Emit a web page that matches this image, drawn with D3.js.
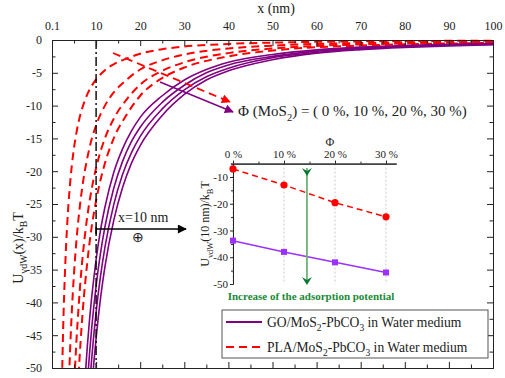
<!DOCTYPE html>
<html><head><meta charset="utf-8">
<script src="https://cdn.jsdelivr.net/npm/d3@7"></script>
<style>
body{margin:0;background:#fff}
text{font-family:"Liberation Serif","Times New Roman",serif;fill:#222}
</style>
</head><body>
<svg id="c" width="505" height="378"></svg>
<script>
// ---------- data ----------
const xTickValues = [0,10,20,30,40,50,60,70,80,90,100];
const xTickLabels = ["0.1","10","20","30","40","50","60","70","80","90","100"];
const yTickValues = [0,-5,-10,-15,-20,-25,-30,-35,-40,-45,-50];
const phiLabels = ["0 %","10 %","20 %","30 %"];
const phiValues = [0,10,20,30];

// GO/MoS2-PbCO3 (purple, solid) curves, x in nm
const goX = [7,7.5,8,8.5,9,9.5,10,11,12,14,16,18,20,25,30,35,40,50,60,70,80,90,100];
const goU0  = [-57.2,-51.6,-46.8,-42.7,-39.2,-36.2,-33.5,-29.0,-25.5,-20.2,-16.6,-13.9,-11.8,-8.5,-6.1,-4.5,-3.4,-2.2,-1.5,-1.09,-0.83,-0.66,-0.53];
const goU10 = [-64.0,-57.7,-52.4,-47.9,-43.9,-40.5,-37.5,-32.5,-28.5,-22.6,-18.5,-15.5,-13.3,-9.5,-6.9,-5.0,-3.8,-2.5,-1.7,-1.2,-0.93,-0.74,-0.59];
const goU20 = [-70.9,-63.9,-58.0,-53.0,-48.6,-44.8,-41.5,-36.0,-31.6,-25.1,-20.5,-17.2,-14.7,-10.5,-7.6,-5.6,-4.3,-2.7,-1.9,-1.34,-1.03,-0.81,-0.66];
const goU30 = [-77.7,-70.1,-63.6,-58.1,-53.3,-49.1,-45.5,-39.4,-34.6,-27.5,-22.5,-18.8,-16.1,-11.5,-8.3,-6.1,-4.7,-3.0,-2.0,-1.47,-1.13,-0.89,-0.72];

// PLA/MoS2-PbCO3 (red, dashed) curves
const plaX0  = [2,2.5,3,3.5,4,4.5,5,5.5,6,6.5,7,8,9,10,12,14,17,20,25,30,40,50,60,70,80,90,100];
const plaU0  = [-61.9,-44.8,-34.4,-27.5,-22.7,-19.1,-16.4,-14.3,-12.6,-11.2,-10.1,-8.3,-7.0,-6.0,-4.6,-3.7,-2.8,-2.1,-1.4,-1.0,-0.6,-0.4,-0.28,-0.21,-0.16,-0.13,-0.11];
const plaX10 = [3.5,4,4.5,5,5.5,6,6.5,7,8,9,10,12,14,17,20,25,30,40,50,60,70,80,90,100];
const plaU10 = [-59.5,-49.1,-41.3,-35.5,-30.9,-27.3,-24.3,-21.8,-18.0,-15.1,-13.0,-10.0,-8.0,-6.0,-4.5,-3.1,-2.2,-1.3,-0.86,-0.6,-0.45,-0.35,-0.28,-0.23];
const plaX20 = [4.5,5,5.5,6,6.5,7,8,9,10,12,14,17,20,25,30,40,50,60,70,80,90,100];
const plaU20 = [-62.0,-53.2,-46.4,-41.0,-36.4,-32.7,-26.9,-22.7,-19.5,-15.0,-12.0,-9.0,-6.8,-4.7,-3.4,-2.0,-1.3,-0.9,-0.67,-0.53,-0.43,-0.35];
const plaX30 = [5,5.5,6,6.5,7,8,9,10,12,14,17,20,25,30,40,50,60,70,80,90,100];
const plaU30 = [-66.9,-58.3,-51.5,-45.8,-41.1,-33.9,-28.5,-24.5,-18.8,-15.0,-11.3,-8.5,-5.8,-4.2,-2.5,-1.6,-1.1,-0.85,-0.66,-0.54,-0.43];

// inset: U_vdW at 10 nm vs Φ
const insetGO  = [-33.8,-38.0,-41.9,-45.7];
const insetPLA = [-7.0,-13.0,-19.6,-24.9];
const insetYTicks = [-10,-20,-30,-40,-50];

// ---------- drawing ----------
const svg = d3.select("#c");
const PURPLE = "#800080", RED = "#ff0000", VIOLET = "#9b30ff";
const FONT = "'Liberation Serif','Times New Roman',serif";

const x = d3.scaleLinear().domain([0,100]).range([52,493]);
const y = d3.scaleLinear().domain([0,-50]).range([40,368]);

const defs = svg.append("defs");
defs.append("clipPath").attr("id","plotclip").append("rect")
  .attr("x",52).attr("y",38).attr("width",441).attr("height",330);
function marker(id,color,w,h){
  defs.append("marker").attr("id",id).attr("viewBox","0 0 10 10")
    .attr("refX",9).attr("refY",5).attr("markerWidth",w).attr("markerHeight",h)
    .attr("markerUnits","userSpaceOnUse").attr("orient","auto")
    .append("path").attr("d","M0,0 L10,5 L0,10 z").attr("fill",color);
}
marker("arR",RED,11,9); marker("arP",PURPLE,11,9); marker("arK","#000",12,9);

// curves
const line = d3.line().x(d=>x(d[0])).y(d=>y(d[1])).curve(d3.curveMonotoneX);
const gC = svg.append("g").attr("clip-path","url(#plotclip)");
const plaSets = [[plaX0,plaU0],[plaX10,plaU10],[plaX20,plaU20],[plaX30,plaU30]];
plaSets.forEach(([xs,us])=>{
  gC.append("path").attr("d",line(xs.map((v,i)=>[v,us[i]])))
    .attr("fill","none").attr("stroke",RED).attr("stroke-width",2).attr("stroke-dasharray","8,5");
});
[goU0,goU10,goU20,goU30].forEach(us=>{
  gC.append("path").attr("d",line(goX.map((v,i)=>[v,us[i]])))
    .attr("fill","none").attr("stroke",PURPLE).attr("stroke-width",1.6);
});

// dash-dot line at 10 nm
svg.append("line").attr("x1",x(10)).attr("x2",x(10)).attr("y1",y(0)).attr("y2",y(-50))
  .attr("stroke","#000").attr("stroke-width",1.4).attr("stroke-dasharray","9,3,2,3");

// axes
function styleAxis(g){
  g.selectAll("path,line").attr("stroke","#222");
  g.selectAll("text").attr("font-family",FONT).attr("font-size",12).attr("fill","#222");
}
function minorAxis(g){ g.selectAll("text").remove(); g.selectAll("path,line").attr("stroke","#222"); }
const minorX = d3.range(5,100,10);
const minorY = d3.range(-2.5,-50,-5);
const gTop = svg.append("g").attr("transform",`translate(0,${y(0)})`)
  .call(d3.axisTop(x).tickValues(xTickValues).tickFormat((d,i)=>xTickLabels[i]).tickSizeInner(-6).tickSizeOuter(0).tickPadding(10));
styleAxis(gTop);
svg.append("g").attr("transform",`translate(0,${y(0)})`)
  .call(d3.axisTop(x).tickValues(minorX).tickSizeInner(-3.5).tickSizeOuter(0)).call(minorAxis);
svg.append("g").attr("transform",`translate(0,${y(-50)})`)
  .call(d3.axisBottom(x).tickValues(xTickValues).tickSizeInner(-6).tickSizeOuter(0)).call(minorAxis);
svg.append("g").attr("transform",`translate(0,${y(-50)})`)
  .call(d3.axisBottom(x).tickValues(minorX).tickSizeInner(-3.5).tickSizeOuter(0)).call(minorAxis);
const gL = svg.append("g").attr("transform",`translate(${x(0)},0)`)
  .call(d3.axisLeft(y).tickValues(yTickValues).tickFormat(d=>d===0?"0":String(d)).tickSizeInner(-6).tickSizeOuter(0).tickPadding(10));
styleAxis(gL);
svg.append("g").attr("transform",`translate(${x(0)},0)`)
  .call(d3.axisLeft(y).tickValues(minorY).tickSizeInner(-3.5).tickSizeOuter(0)).call(minorAxis);
svg.append("g").attr("transform",`translate(${x(100)},0)`)
  .call(d3.axisRight(y).tickValues(yTickValues).tickSizeInner(-6).tickSizeOuter(0)).call(minorAxis);
svg.append("g").attr("transform",`translate(${x(100)},0)`)
  .call(d3.axisRight(y).tickValues(minorY).tickSizeInner(-3.5).tickSizeOuter(0)).call(minorAxis);

// titles
svg.append("text").attr("x",276).attr("y",13).attr("text-anchor","middle").attr("font-size",14).text("x (nm)");
function subText(sel, parts, size){
  let shift = 0;
  parts.forEach(p=>{
    const target = p.sub ? size*0.3 : 0;
    const ts = sel.append("tspan").text(p.t);
    if (target !== shift) ts.attr("dy", target - shift);
    if (p.sub) ts.attr("font-size", size*0.7);
    shift = target;
  });
}
const yt = svg.append("text").attr("transform","translate(23,248) rotate(-90)").attr("text-anchor","middle").attr("font-size",14);
subText(yt,[{t:"U"},{t:"vdW",sub:1},{t:"(x)/k"},{t:"B",sub:1},{t:"T"}],14);

// annotation arrows
svg.append("line").attr("x1",113).attr("y1",53).attr("x2",230).attr("y2",102)
  .attr("stroke",RED).attr("stroke-width",1.8).attr("stroke-dasharray","8,5").attr("marker-end","url(#arR)");
svg.append("line").attr("x1",160).attr("y1",82).attr("x2",233).attr("y2",112)
  .attr("stroke",PURPLE).attr("stroke-width",1.4).attr("marker-end","url(#arP)");
const an = svg.append("text").attr("x",238).attr("y",116).attr("font-size",15);
subText(an,[{t:"\u03A6 (MoS"},{t:"2",sub:1},{t:") = ( 0 %, 10 %, 20 %, 30 %)"}],15);

// x = 10 nm arrow
svg.append("line").attr("x1",x(10)).attr("y1",229).attr("x2",186).attr("y2",229)
  .attr("stroke","#000").attr("stroke-width",1.5).attr("marker-end","url(#arK)");
svg.append("line").attr("x1",x(10)).attr("y1",224).attr("x2",x(10)).attr("y2",234).attr("stroke","#000").attr("stroke-width",1.5);
svg.append("text").attr("x",118).attr("y",222).attr("font-size",14).text("x=10 nm");
svg.append("text").attr("x",138).attr("y",242).attr("text-anchor","middle").attr("font-size",14).text("\u2295");

// ---------- inset ----------
const xi = d3.scaleLinear().domain([-0.5,32]).range([233-2.55,233+5.1*32]);
const yi = d3.scaleLinear().domain([-5,-50]).range([163.6,284]);
const gi = svg.append("g");
phiValues.forEach(p=>{
  gi.append("line").attr("x1",xi(p)).attr("x2",xi(p)).attr("y1",yi(-5)).attr("y2",yi(-50))
    .attr("stroke","#c8c8c8").attr("stroke-width",1).attr("stroke-dasharray","2,2");
});
const giT = gi.append("g").attr("transform",`translate(0,${yi(-5)})`)
  .call(d3.axisTop(xi).tickValues(phiValues).tickFormat((d,i)=>phiLabels[i]).tickSizeInner(3).tickSizeOuter(0).tickPadding(3));
styleAxis(giT); giT.selectAll("text").attr("font-size",11);
gi.append("g").attr("transform",`translate(0,${yi(-5)})`)
  .call(d3.axisTop(xi).tickValues([5,15,25]).tickSizeInner(2).tickSizeOuter(0)).call(minorAxis);
const giL = gi.append("g").attr("transform",`translate(${xi(0)},0)`)
  .call(d3.axisLeft(yi).tickValues(insetYTicks).tickFormat(d=>String(d)).tickSizeInner(3).tickSizeOuter(0).tickPadding(2));
styleAxis(giL); giL.selectAll("text").attr("font-size",11);
gi.append("g").attr("transform",`translate(${xi(0)},0)`)
  .call(d3.axisLeft(yi).tickValues([-15,-25,-35,-45]).tickSizeInner(2).tickSizeOuter(0)).call(minorAxis);
gi.append("text").attr("x",330).attr("y",146).attr("text-anchor","middle").attr("font-size",12).text("\u03A6");
const iyt = gi.append("text").attr("transform","translate(209,224) rotate(-90)").attr("text-anchor","middle").attr("font-size",12);
subText(iyt,[{t:"U"},{t:"vdW",sub:1},{t:"(10 nm)/k"},{t:"B",sub:1},{t:"T"}],12);

const li = d3.line().x((d,i)=>xi(phiValues[i])).y(d=>yi(d));
gi.append("path").attr("d",li(insetPLA)).attr("fill","none").attr("stroke",RED).attr("stroke-width",1.5).attr("stroke-dasharray","6,4");
gi.append("path").attr("d",li(insetGO)).attr("fill","none").attr("stroke",VIOLET).attr("stroke-width",1.5);
insetPLA.forEach((v,i)=>gi.append("circle").attr("cx",xi(phiValues[i])).attr("cy",yi(v)).attr("r",3.6).attr("fill",RED));
insetGO.forEach((v,i)=>gi.append("rect").attr("x",xi(phiValues[i])-3).attr("y",yi(v)-3).attr("width",6).attr("height",6).attr("fill",VIOLET));

// green arrow
const GX = xi(14.5);
gi.append("line").attr("x1",GX).attr("x2",GX).attr("y1",168).attr("y2",282).attr("stroke","#6fb27a").attr("stroke-width",1.8);
[[168,176],[277,285]].forEach(([a,b])=>{
  gi.append("path").attr("d",`M${GX-5},${a} L${GX},${b} L${GX+5},${a} L${GX},${a+3} Z`).attr("fill","#007a2e");
});
gi.append("text").attr("x",311).attr("y",300).attr("text-anchor","middle").attr("font-size",11)
  .attr("font-weight","bold").style("fill","#1a8a35").text("Increase of the adsorption potential");

// ---------- legend ----------
const lg = svg.append("g");
lg.append("rect").attr("x",222).attr("y",310).attr("width",266).attr("height",48)
  .attr("fill","#fff").attr("stroke","#555").attr("stroke-width",1);
lg.append("line").attr("x1",226).attr("x2",262).attr("y1",322).attr("y2",322).attr("stroke",PURPLE).attr("stroke-width",1.8);
lg.append("line").attr("x1",226).attr("x2",262).attr("y1",347).attr("y2",347).attr("stroke",RED).attr("stroke-width",2).attr("stroke-dasharray","8,5");
const t1 = lg.append("text").attr("x",267).attr("y",327).attr("font-size",13.6);
subText(t1,[{t:"GO/MoS"},{t:"2",sub:1},{t:"-PbCO"},{t:"3",sub:1},{t:" in Water medium"}],13.6);
const t2 = lg.append("text").attr("x",267).attr("y",352).attr("font-size",13.6);
subText(t2,[{t:"PLA/MoS"},{t:"2",sub:1},{t:"-PbCO"},{t:"3",sub:1},{t:"  in Water medium"}],13.6);
</script>
</body></html>
